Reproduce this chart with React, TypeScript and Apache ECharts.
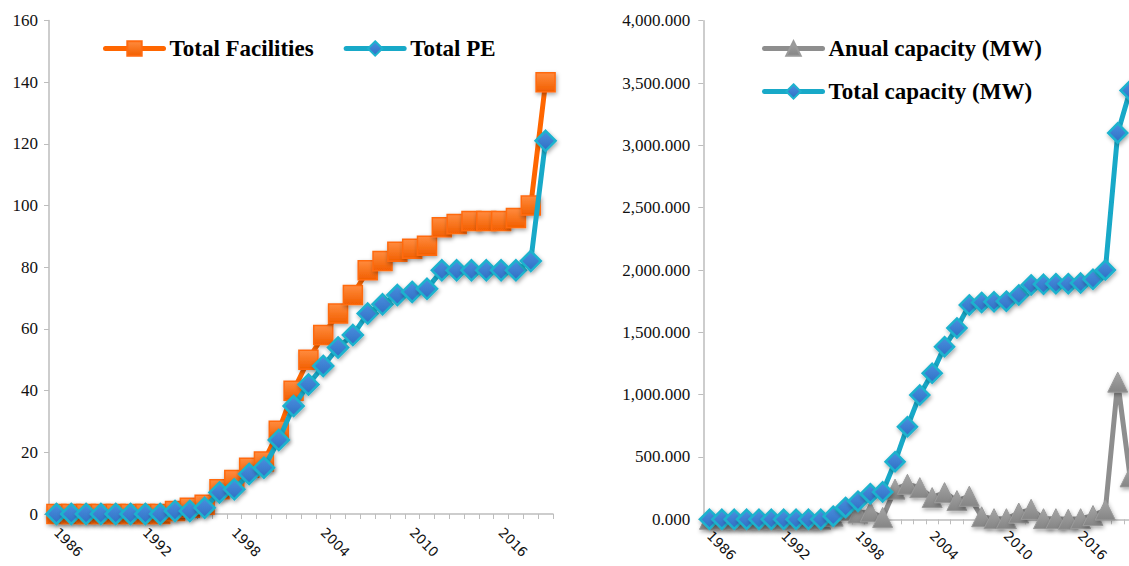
import { useEffect, useRef } from "react";
import * as echarts from "echarts";

// Years on the facilities chart (left) and on the capacity chart (right)
const facilityYears = [
  "1986", "1987", "1988", "1989", "1990", "1991", "1992", "1993", "1994", "1995",
  "1996", "1997", "1998", "1999", "2000", "2001", "2002", "2003", "2004", "2005",
  "2006", "2007", "2008", "2009", "2010", "2011", "2012", "2013", "2014", "2015",
  "2016", "2017", "2018", "2019",
];
const capacityYears = [...facilityYears, "2020"];

const totalFacilities = [
  0, 0, 0, 0, 0, 0, 0, 0, 1, 2,
  3, 8, 11, 15, 17, 27, 40, 50, 58, 65,
  71, 79, 82, 85, 86, 87, 93, 94, 95, 95,
  95, 96, 100, 140,
];
const totalPE = [
  0, 0, 0, 0, 0, 0, 0, 0, 1, 1,
  2, 7, 8, 13, 15, 24, 35, 42, 48, 54,
  58, 65, 68, 71, 72, 73, 79, 79, 79, 79,
  79, 79, 82, 121,
];

const annualCapacity = [
  0, 0, 0, 0, 0, 0, 0, 0, 0, 0,
  25, 70, 50, 60, 15, 242, 281, 254, 174, 214,
  150, 185, 20, 5, 5, 50, 80, 5, 5, 0,
  5, 30, 75, 1100, 340,
];
const totalCapacity = [
  0, 0, 0, 0, 0, 0, 0, 0, 0, 0,
  25, 95, 145, 205, 220, 462, 743, 997, 1171, 1385,
  1535, 1720, 1740, 1745, 1750, 1800, 1880, 1885, 1890, 1890,
  1895, 1925, 2000, 3100, 3440,
];

const SERIF = "'Liberation Serif', 'Times New Roman', serif";
const SANS = "'DejaVu Sans', Verdana, sans-serif";
const AXIS_GRAY = "#BDBDBD";

const ORANGE = "#FF6600";
const CYAN = "#18A9C8";
const GRAY = "#8E8E8E";

const markerShadow = {
  shadowColor: "rgba(0,0,0,0.35)",
  shadowBlur: 4,
  shadowOffsetX: 1,
  shadowOffsetY: 2,
};

const vGrad = (top: string, bottom: string) =>
  new echarts.graphic.LinearGradient(0, 0, 0, 1, [
    { offset: 0, color: top },
    { offset: 1, color: bottom },
  ]);

function categoryAxis(gridIndex: number, years: string[], margin: number) {
  return {
    type: "category",
    gridIndex,
    data: years,
    boundaryGap: true,
    axisLine: { lineStyle: { color: AXIS_GRAY, width: 1.5 } },
    axisTick: { show: true, interval: 0, length: 5, lineStyle: { color: AXIS_GRAY } },
    axisLabel: {
      interval: 5,
      rotate: -45,
      margin,
      color: "#111",
      fontFamily: SANS,
      fontSize: 13.5,
    },
    splitLine: { show: false },
  };
}

function valueAxis(gridIndex: number, max: number, interval: number, fmt: (v: number) => string, margin: number) {
  return {
    type: "value",
    gridIndex,
    min: 0,
    max,
    interval,
    axisLine: { show: true, lineStyle: { color: AXIS_GRAY, width: 1.5 } },
    axisTick: { show: true, length: 5, lineStyle: { color: AXIS_GRAY } },
    axisLabel: {
      formatter: fmt,
      margin,
      color: "#111",
      fontFamily: SERIF,
      fontSize: 17,
    },
    splitLine: { show: false },
  };
}

const legendText = {
  fontFamily: SERIF,
  fontWeight: "bold",
  fontSize: 23,
  lineHeight: 22,
  color: "#000",
  padding: [0, 0, 0, 1],
};

const legendLine = { width: 5, cap: "round" };

export default function App() {
  const ref = useRef<HTMLDivElement>(null);

  useEffect(() => {
    if (!ref.current) return;
    const chart = echarts.init(ref.current, undefined, { renderer: "svg" });

    const option = {
      animation: false,
      backgroundColor: "#ffffff",
      grid: [
        { left: 49, top: 20.5, width: 504, height: 493.5, containLabel: false, outerBoundsMode: "none" },
        { left: 703.3, top: 20.7, width: 433, height: 498.6, containLabel: false, outerBoundsMode: "none" },
      ],
      legend: [
        {
          left: 98,
          top: 32,
          orient: "horizontal",
          itemWidth: 58,
          itemHeight: 18,
          itemGap: 30,
          lineStyle: legendLine,
          textStyle: legendText,
          data: ["Total Facilities", "Total PE"],
        },
        {
          left: 757,
          top: 32,
          orient: "vertical",
          itemWidth: 58,
          itemHeight: 18,
          itemGap: 20,
          lineStyle: legendLine,
          textStyle: legendText,
          data: ["Anual capacity (MW)", "Total capacity (MW)"],
        },
      ],
      xAxis: [categoryAxis(0, facilityYears, 16), categoryAxis(1, capacityYears, 14)],
      yAxis: [
        valueAxis(0, 160, 20, (v: number) => String(v), 11),
        valueAxis(
          1,
          4000,
          500,
          (v: number) =>
            v.toLocaleString("en-US", { minimumFractionDigits: 3, maximumFractionDigits: 3 }),
          13
        ),
      ],
      series: [
        {
          name: "Total Facilities",
          type: "line",
          xAxisIndex: 0,
          yAxisIndex: 0,
          data: totalFacilities,
          symbol: "rect",
          symbolSize: 19,
          showAllSymbol: true,
          lineStyle: { color: ORANGE, width: 5 },
          itemStyle: {
            color: vGrad("#FF8B3E", "#F25F00"),
            borderColor: "#FF6A10",
            borderWidth: 1.5,
            ...markerShadow,
          },
          z: 2,
        },
        {
          name: "Total PE",
          type: "line",
          xAxisIndex: 0,
          yAxisIndex: 0,
          data: totalPE,
          symbol: "diamond",
          symbolSize: 20,
          showAllSymbol: true,
          lineStyle: { color: CYAN, width: 5 },
          itemStyle: {
            color: vGrad("#4A90DF", "#2F6FC4"),
            borderColor: "#1EB2CE",
            borderWidth: 2.5,
            ...markerShadow,
          },
          z: 3,
        },
        {
          name: "Anual capacity (MW)",
          type: "line",
          xAxisIndex: 1,
          yAxisIndex: 1,
          data: annualCapacity,
          symbol: "triangle",
          symbolSize: 20,
          showAllSymbol: true,
          lineStyle: { color: GRAY, width: 5 },
          itemStyle: {
            color: vGrad("#A5A5A5", "#858585"),
            borderColor: "#9A9A9A",
            borderWidth: 1,
            ...markerShadow,
          },
          z: 2,
        },
        {
          name: "Total capacity (MW)",
          type: "line",
          xAxisIndex: 1,
          yAxisIndex: 1,
          data: totalCapacity,
          symbol: "diamond",
          symbolSize: 19,
          showAllSymbol: true,
          lineStyle: { color: CYAN, width: 5 },
          itemStyle: {
            color: vGrad("#4A90DF", "#2F6FC4"),
            borderColor: "#1EB2CE",
            borderWidth: 2.5,
            ...markerShadow,
          },
          z: 3,
        },
      ],
    };

    chart.setOption(option as any);
    return () => chart.dispose();
  }, []);

  return (
    <div
      style={{
        position: "fixed",
        left: 0,
        top: 0,
        width: 1129,
        height: 566,
        overflow: "hidden",
        background: "#ffffff",
      }}
    >
      <div ref={ref} style={{ width: 1140, height: 566 }} />
    </div>
  );
}
